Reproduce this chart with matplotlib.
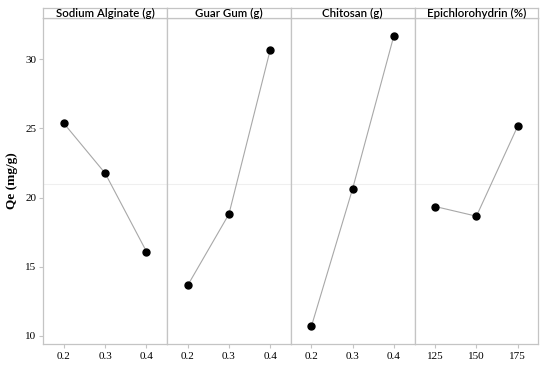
import matplotlib
matplotlib.use("Agg")
import matplotlib.pyplot as plt

# main effects for Qe (mg/g)
factors = ["Sodium Alginate (g)", "Guar Gum (g)", "Chitosan (g)", "Epichlorohydrin (%)"]
levels_sa = [0.2, 0.3, 0.4]
levels_gg = [0.2, 0.3, 0.4]
levels_ch = [0.2, 0.3, 0.4]
levels_ep = [125, 150, 175]
qe_sa = [25.35, 21.75, 16.1]
qe_gg = [13.65, 18.8, 30.65]
qe_ch = [10.7, 20.65, 31.7]
qe_ep = [19.35, 18.65, 25.15]
grand_mean = 21.0
xticklabels_frac = ["0.2", "0.3", "0.4"]
xticklabels_ep = ["125", "150", "175"]

levels = [levels_sa, levels_gg, levels_ch, levels_ep]
means = [qe_sa, qe_gg, qe_ch, qe_ep]
ticklabs = [xticklabels_frac, xticklabels_frac, xticklabels_frac, xticklabels_ep]

frame = "#c4c4c4"
serif = "Liberation Serif"

fig = plt.figure(figsize=(5.5, 3.7), dpi=100)
left, right = 43.3 / 550, 538.3 / 550
bottom, top = 1 - 344 / 370, 1 - 17.5 / 370
head_top = 1 - 7.5 / 370
w = (right - left) / 4

for i in range(4):
    ax = fig.add_axes([left + i * w, bottom, w, top - bottom])
    lv = levels[i]
    step = lv[1] - lv[0]
    ax.axhline(grand_mean, color="#efefef", lw=0.8, zorder=1)
    ax.plot(lv, means[i], color="#a8a8a8", lw=0.8, zorder=2)
    ax.plot(lv, means[i], "o", color="black", ms=5, zorder=3)
    ax.set_xlim(lv[0] - step / 2, lv[-1] + step / 2)
    ax.set_ylim(9.42, 33.0)
    ax.set_xticks(lv)
    ax.set_xticklabels(ticklabs[i], fontfamily=serif, fontsize=8)
    for s in ax.spines.values():
        s.set_color(frame)
        s.set_linewidth(0.9)
    ax.tick_params(axis="x", length=3, color=frame, pad=3)
    if i == 0:
        ax.set_yticks([10, 15, 20, 25, 30])
        ax.set_yticklabels(["10", "15", "20", "25", "30"], fontfamily=serif, fontsize=8)
        ax.tick_params(axis="y", length=3, color=frame, pad=2)
        ax.set_ylabel("Qe (mg/g)", fontfamily=serif, fontweight="bold", fontsize=9.5, labelpad=5)
    else:
        ax.set_yticks([])

    hax = fig.add_axes([left + i * w, top, w, head_top - top])
    hax.set_xticks([])
    hax.set_yticks([])
    for s in hax.spines.values():
        s.set_color(frame)
        s.set_linewidth(0.9)
    hax.text(0.5, 0.42, factors[i], ha="center", va="center", fontsize=8.3,
             fontfamily="Lato", fontweight="semibold", transform=hax.transAxes)

fig.savefig("out.png", dpi=100)
